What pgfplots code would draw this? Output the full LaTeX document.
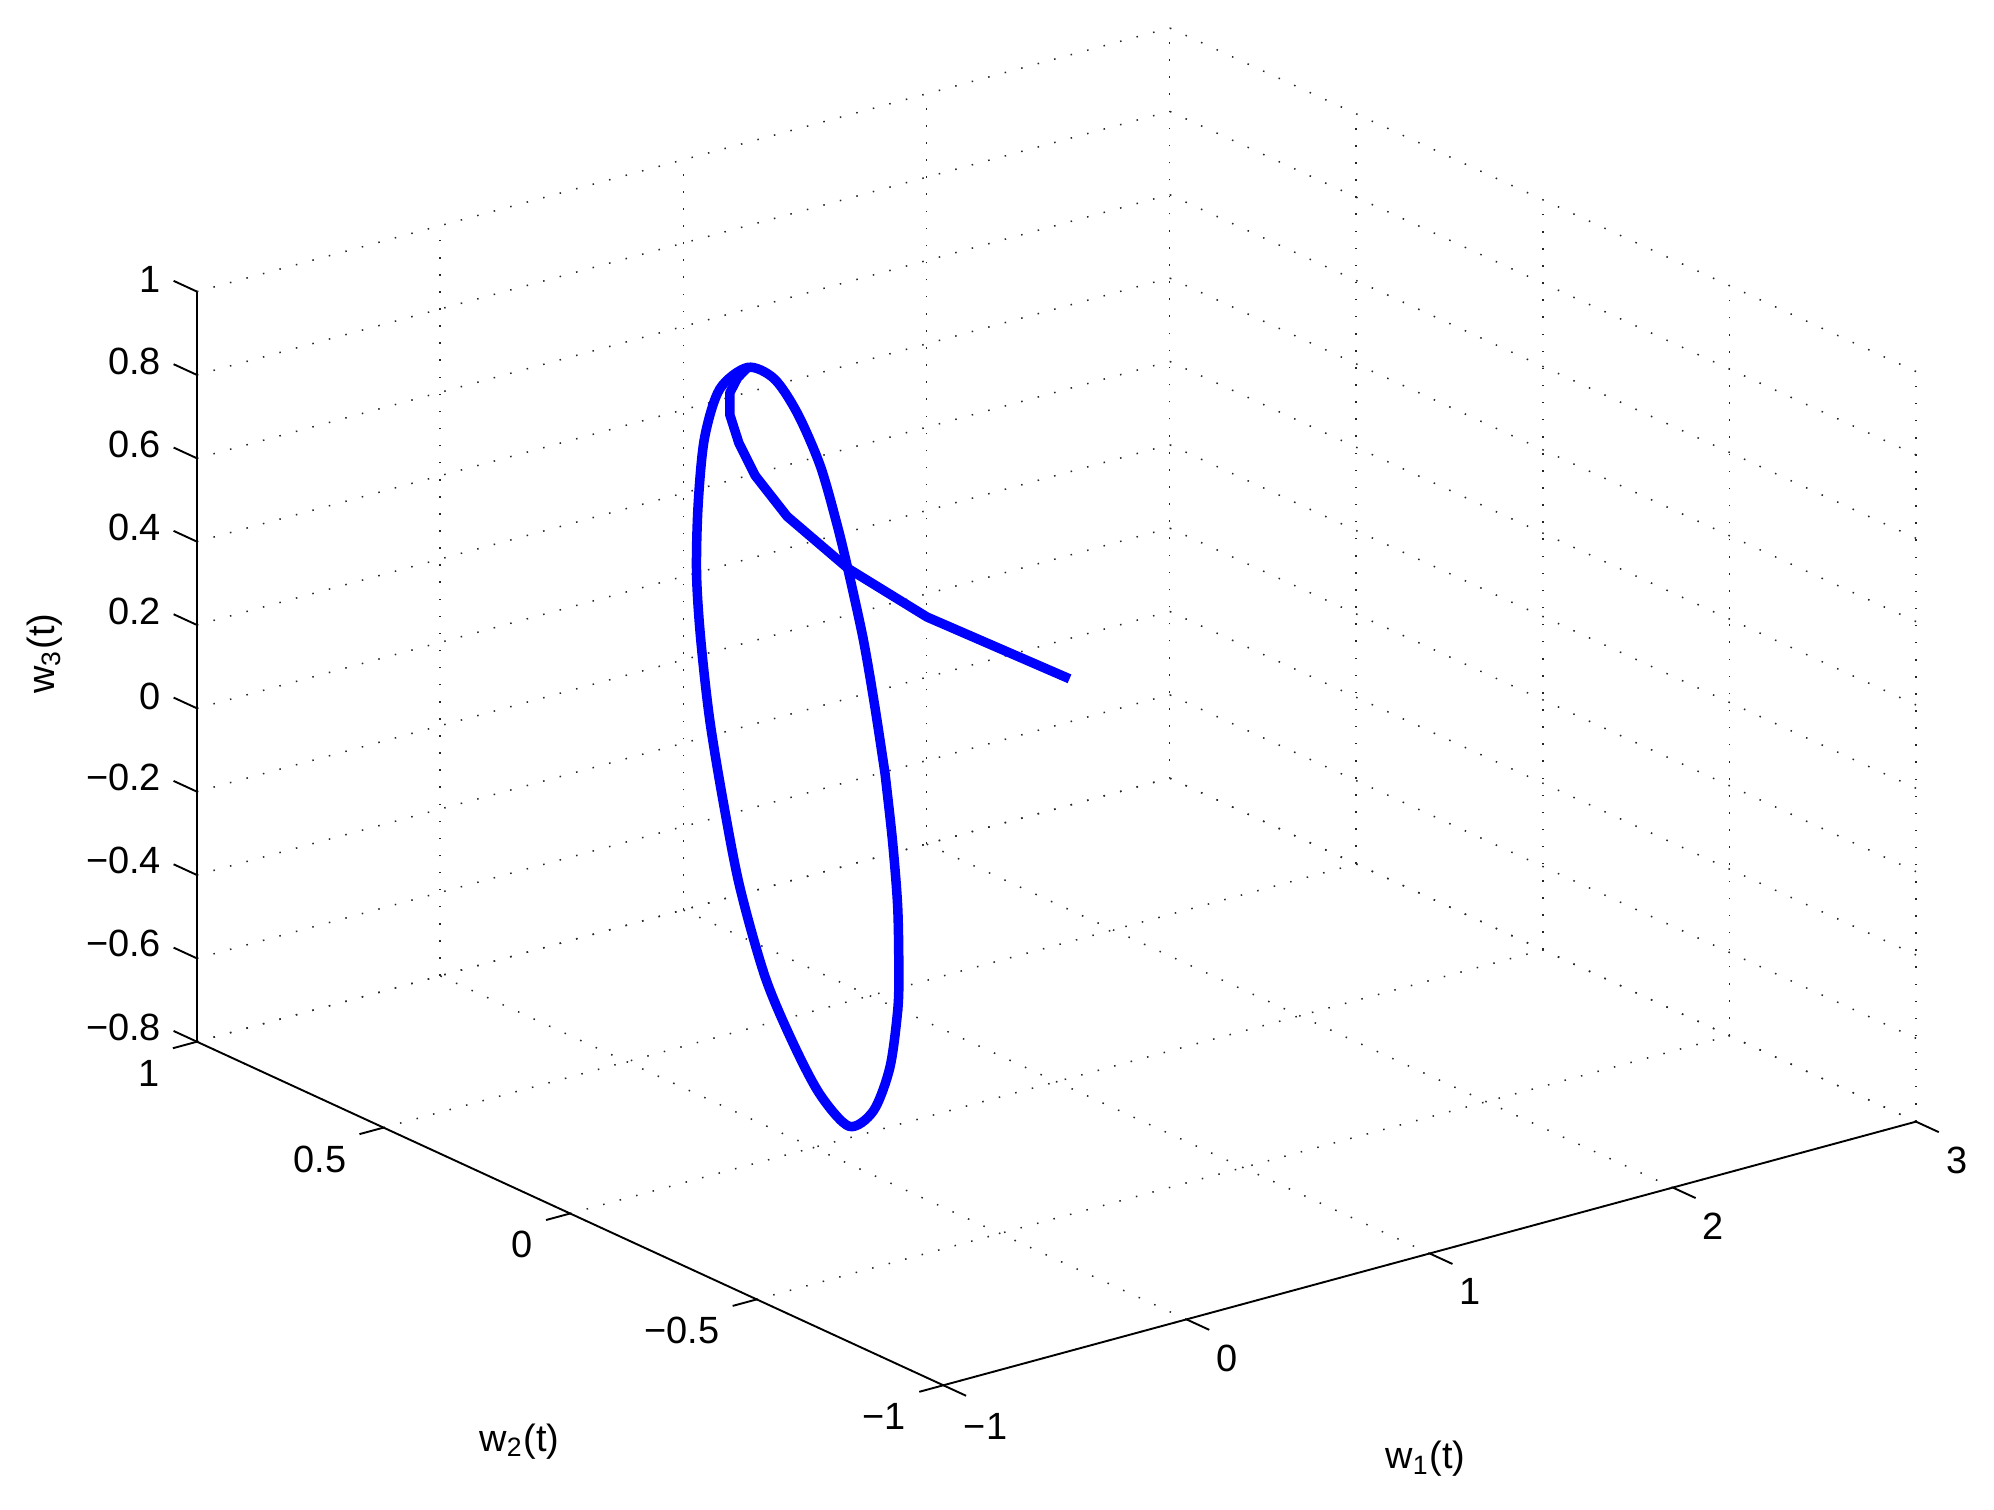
\documentclass[border=0pt]{standalone}
\usepackage{fontspec}
\setmainfont{Liberation Sans}
\usepackage{pgfplots}
\pgfplotsset{compat=1.18}
\usetikzlibrary{calc}

% trajectory: transient part, then the closed loop
\pgfplotstableread{
x y z
2.2 0.747 -0.331
1.0 0.347 0.172
0.45 0.200 0.436
0.25 0.233 0.579
0.16 0.260 0.680
0.12 0.278 0.758
0.1 0.289 0.824
0.1 0.289 0.876
0.1 0.268 0.921
0.1 0.241 0.957
}\transient

\pgfplotstableread{
x y z
0.1 -0.127 0.134
0.1 -0.147 -0.019
0.1 -0.161 -0.173
0.1 -0.164 -0.330
0.1 -0.161 -0.420
0.1 -0.140 -0.566
0.1 -0.096 -0.688
0.1 -0.031 -0.752
0.1 0.047 -0.708
0.1 0.119 -0.615
0.1 0.194 -0.487
0.1 0.262 -0.299
0.1 0.306 -0.115
0.1 0.343 0.071
0.1 0.367 0.254
0.1 0.378 0.405
0.1 0.374 0.569
0.1 0.357 0.738
0.1 0.316 0.874
0.1 0.241 0.957
0.1 0.170 0.959
0.1 0.108 0.902
0.1 0.047 0.802
0.1 0.003 0.683
0.1 -0.028 0.582
0.1 -0.069 0.431
0.1 -0.100 0.282
0.1 -0.127 0.134
}\loop

\begin{document}
\fontsize{10}{12}\selectfont
\begin{tikzpicture}
\begin{axis}[
    view={-37.5}{30},
    scale only axis,
    width=15.92cm, height=12.57cm,
    clip=false,
    xmin=-1, xmax=3, ymin=-1, ymax=1, zmin=-0.8, zmax=1,
    xtick={-1,0,1,2,3}, xticklabels={−1,0,1,2,3},
    ytick={-1,-0.5,0,0.5,1}, yticklabels={−1,−0.5,0,0.5,1},
    ztick={-0.8,-0.6,-0.4,-0.2,0,0.2,0.4,0.6,0.8,1},
    zticklabels={−0.8,−0.6,−0.4,−0.2,0,0.2,0.4,0.6,0.8,1},
    grid=major,
    major grid style={black!85, line width=0.4pt, dash pattern=on 0.4pt off 4.1pt},
    axis line style={draw=none},
    tick pos=left,
    tick align=outside,
    major tick length=0.23cm,
    major tick style={draw=none},
    yticklabel style={anchor=east, yshift=-0.23cm},
    every axis x label/.style={at={(rel axis cs:0.5,0,0)}, shift={(-0.04cm,-1.90cm)}, anchor=center},
    every axis y label/.style={at={(rel axis cs:0,0.5,0)}, shift={(-0.47cm,-2.11cm)}, anchor=center},
    every axis z label/.style={at={(rel axis cs:0,1,0.5)}, shift={(-1.41cm,0.12cm)}, rotate=90, anchor=center},
    xlabel={w\textsubscript{1}(t)},
    ylabel={w\textsubscript{2}(t)},
    zlabel={w\textsubscript{3}(t)},
    unbounded coords=jump,
]
% the three solid axis lines
\addplot3[black, line width=0.5pt] coordinates {(-1,-1,-0.8) (3,-1,-0.8)};
\addplot3[black, line width=0.5pt] coordinates {(-1,-1,-0.8) (-1,1,-0.8)};
\addplot3[black, line width=0.5pt] coordinates {(-1,1,-0.8) (-1,1,1)};
% tick marks, pointing out of the box
\addplot3[black, line width=0.5pt] coordinates {
    (-1,-1,-0.8) (-1,-1.061,-0.8) (nan,nan,nan)
    (0,-1,-0.8) (0,-1.061,-0.8) (nan,nan,nan)
    (1,-1,-0.8) (1,-1.061,-0.8) (nan,nan,nan)
    (2,-1,-0.8) (2,-1.061,-0.8) (nan,nan,nan)
    (3,-1,-0.8) (3,-1.061,-0.8)
};
\addplot3[black, line width=0.5pt] coordinates {
    (-1,-1,-0.8) (-1.099,-1,-0.8) (nan,nan,nan)
    (-1,-0.5,-0.8) (-1.099,-0.5,-0.8) (nan,nan,nan)
    (-1,0,-0.8) (-1.099,0,-0.8) (nan,nan,nan)
    (-1,0.5,-0.8) (-1.099,0.5,-0.8) (nan,nan,nan)
    (-1,1,-0.8) (-1.099,1,-0.8)
};
\addplot3[black, line width=0.5pt] coordinates {
    (-1,1,-0.8) (-1,1.0625,-0.8) (nan,nan,nan)
    (-1,1,-0.6) (-1,1.0625,-0.6) (nan,nan,nan)
    (-1,1,-0.4) (-1,1.0625,-0.4) (nan,nan,nan)
    (-1,1,-0.2) (-1,1.0625,-0.2) (nan,nan,nan)
    (-1,1,0) (-1,1.0625,0) (nan,nan,nan)
    (-1,1,0.2) (-1,1.0625,0.2) (nan,nan,nan)
    (-1,1,0.4) (-1,1.0625,0.4) (nan,nan,nan)
    (-1,1,0.6) (-1,1.0625,0.6) (nan,nan,nan)
    (-1,1,0.8) (-1,1.0625,0.8) (nan,nan,nan)
    (-1,1,1) (-1,1.0625,1)
};

\addplot3[blue, line width=2.5pt, line join=round] table {\transient};
\addplot3[blue, line width=2.5pt, line join=round, smooth] table {\loop};

\coordinate (org) at (axis cs:-1,-1,-0.8);
\coordinate (yend) at (axis cs:-1,1,-0.8);
\coordinate (xend) at (axis cs:3,-1,-0.8);
\coordinate (topc) at (axis cs:3,1,1);
\end{axis}
\pgfresetboundingbox
\path let \p1=(yend), \p2=(org), \p3=(xend), \p4=(topc) in
    (\x1-1.824cm,\y2-1.148cm) rectangle (\x3+0.722cm,\y4+0.259cm);
\end{tikzpicture}
\end{document}
